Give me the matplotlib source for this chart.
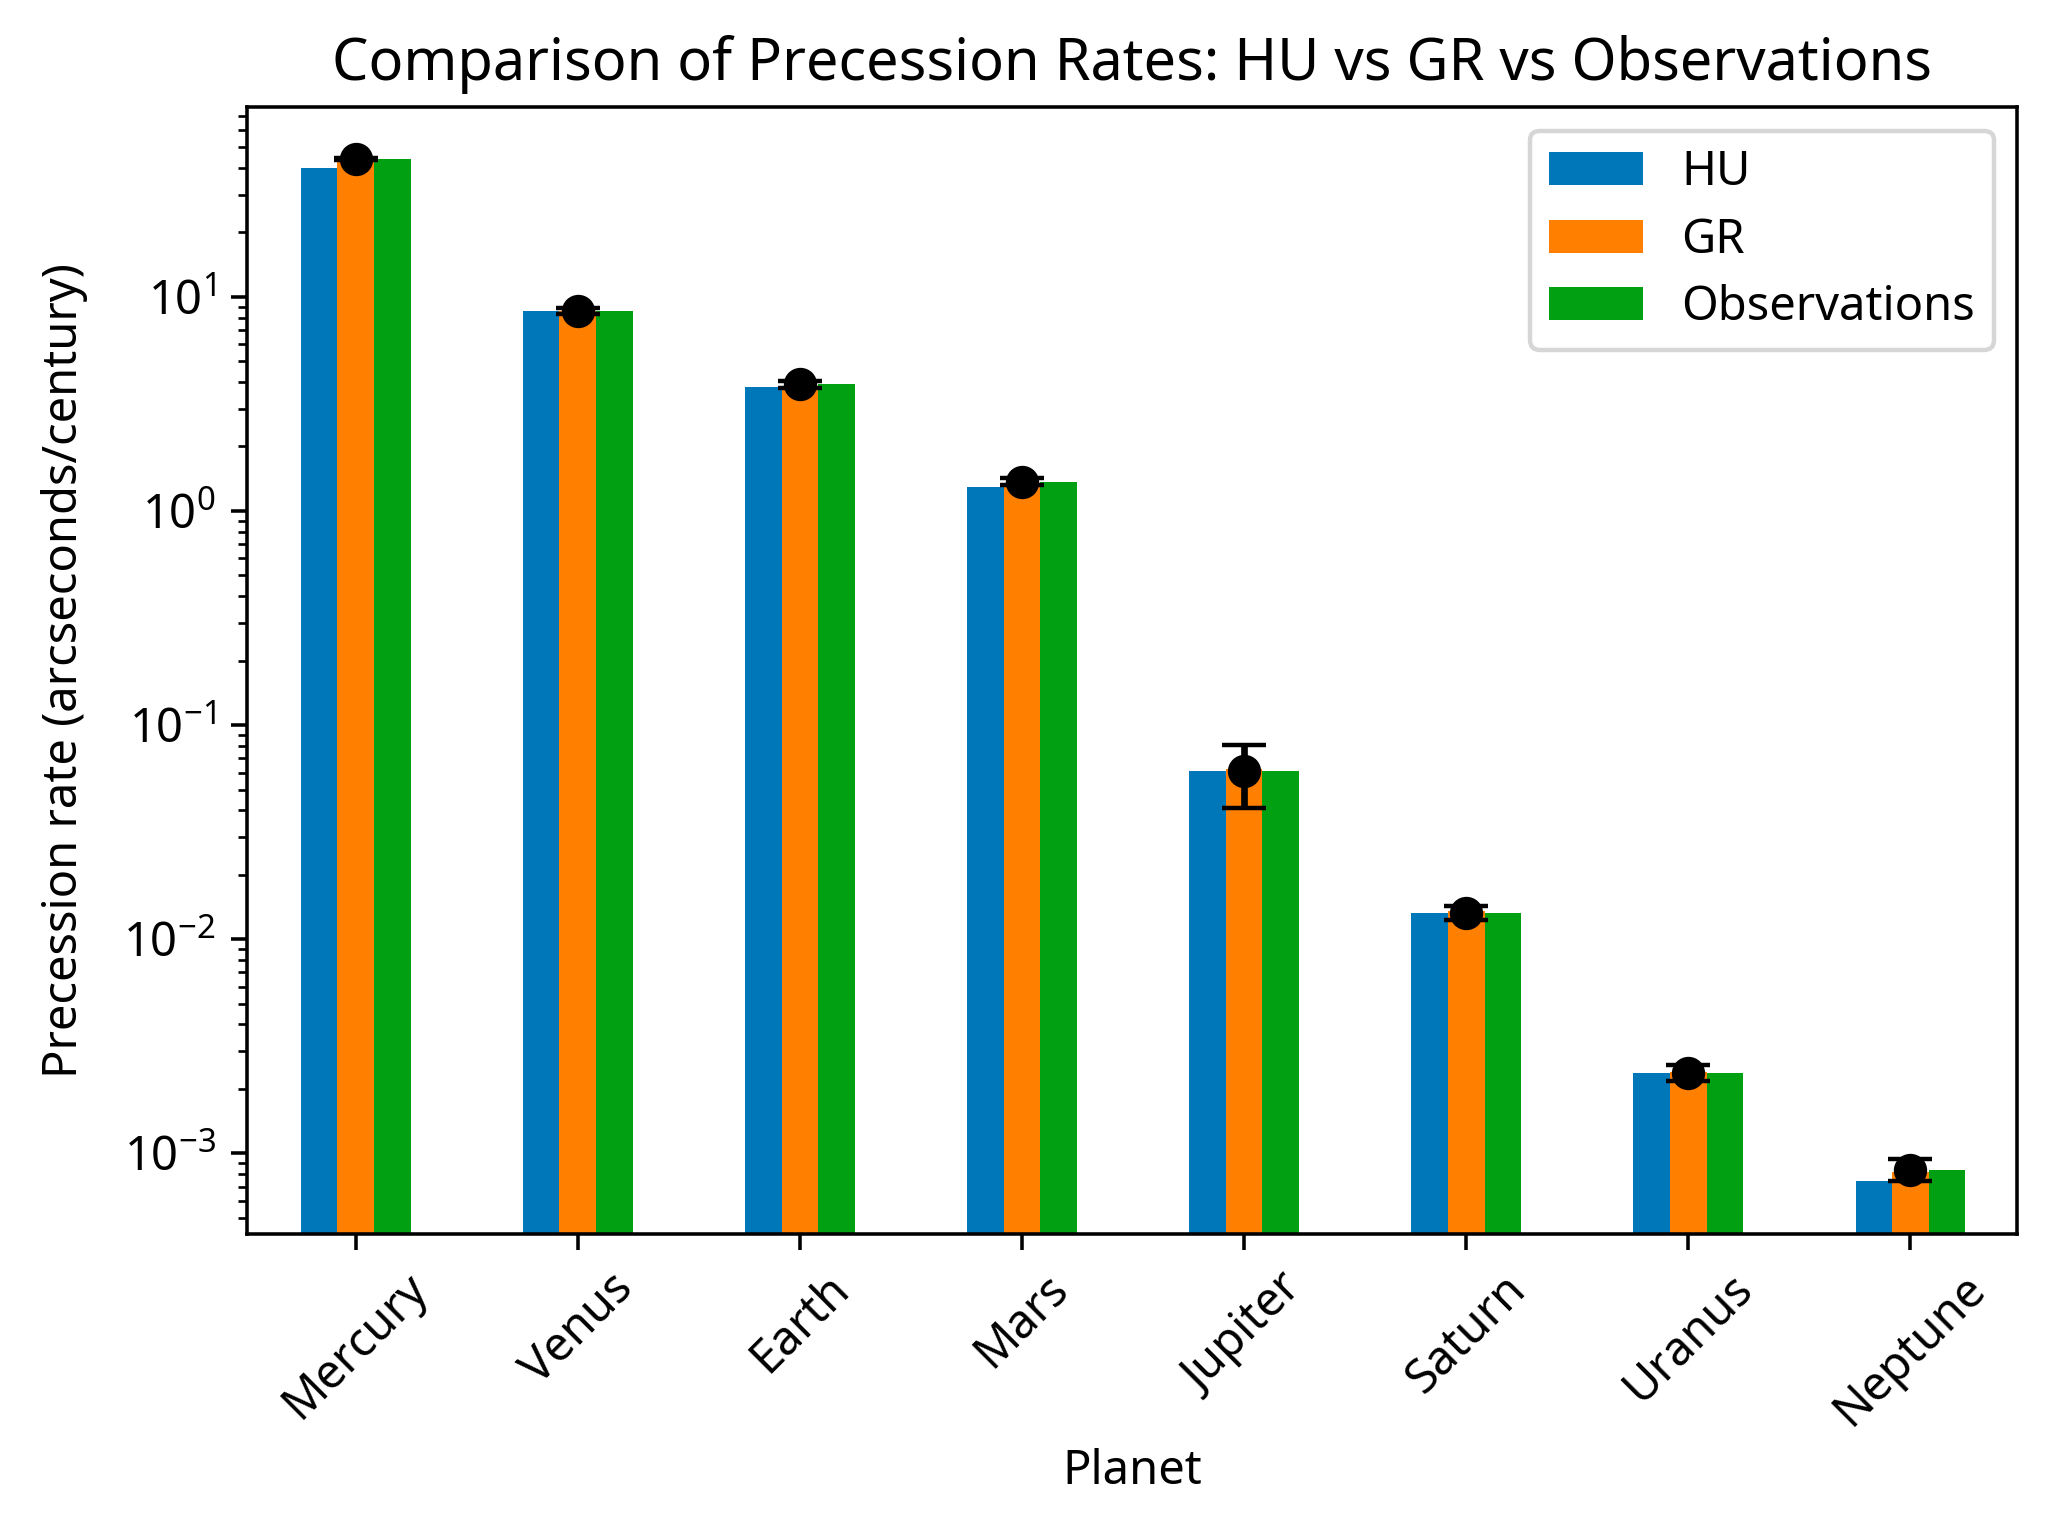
import matplotlib.pyplot as plt
import numpy as np

plt.rcParams['font.family'] = ['Noto Sans', 'DejaVu Sans']
plt.rcParams['font.size'] = 10.6

planets = ["Mercury", "Venus", "Earth", "Mars", "Jupiter", "Saturn", "Uranus", "Neptune"]
hu_rates = [40.0, 8.55, 3.8, 1.3, 0.061, 0.0133, 0.00238, 0.00074]
gr_rates = [43.0, 8.62, 3.84, 1.35, 0.0623, 0.0136, 0.0024, 0.00082]
obs_rates = [43.98, 8.6, 3.9, 1.37, 0.061, 0.0133, 0.00238, 0.00084]
obs_errors = [0.5, 0.3, 0.15, 0.05, 0.02, 0.001, 0.0002, 0.0001]

fig = plt.figure(figsize=(2057 / 320, 1522 / 320), dpi=320)
ax = fig.add_axes([0.120, 0.1892, 0.8606, 0.7405])

x = np.arange(len(planets))
width = 0.165

ax.bar(x - width, hu_rates, width, label="HU", color="#0077b8")
ax.bar(x, gr_rates, width, label="GR", color="#ff7f00")
ax.bar(x + width, obs_rates, width, label="Observations", color="#00a012")
ax.errorbar(x, obs_rates, yerr=obs_errors, fmt='o', color='black', capsize=5, markersize=6.5)

ax.set_yscale('log')
ax.set_ylim(4.2e-4, 77)
ax.set_xlim(-0.49, 7.48)
ax.set_xticks(x)
ax.set_xticklabels(planets, rotation=45)
ax.set_xlabel("Planet", labelpad=3)
ax.set_ylabel("Precession rate (arcseconds/century)", labelpad=8)
ax.set_title("Comparison of Precession Rates: HU vs GR vs Observations", fontsize=13)
ax.legend(loc='upper right', labelspacing=0.43)

plt.savefig("out.png", dpi=320)
